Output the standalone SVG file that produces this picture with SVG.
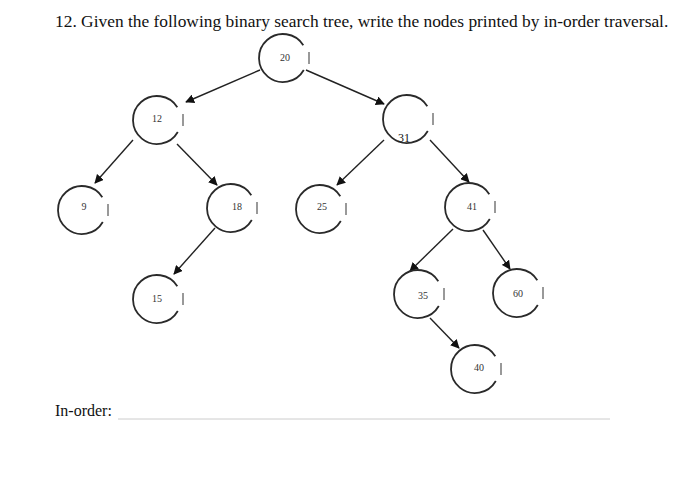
<svg xmlns="http://www.w3.org/2000/svg" width="700" height="489" viewBox="0 0 700 489">
<style>
.t{font-family:"Liberation Serif","Times New Roman",serif;fill:#111}
.lbl{font-family:"Liberation Serif","Times New Roman",serif;font-size:10px;fill:#333;text-anchor:middle}
.ring{fill:none;stroke:#2a2a2a;stroke-width:1.8}
.tick{fill:none;stroke:#555;stroke-width:1.2}
.edge{stroke:#222;stroke-width:1.4;fill:none;marker-end:url(#ah)}
</style>
<defs>
<marker id="ah" viewBox="0 0 10 10" refX="9" refY="5" markerWidth="9" markerHeight="9" markerUnits="userSpaceOnUse" orient="auto">
<path d="M0,0 L10,5 L0,10 z" fill="#111"/>
</marker>
<g id="node">
<path class="ring" d="M20.3,-12.8 A24,24 0 1 0 20.8,12"/>
<path class="tick" d="M26,-6 V6"/>
</g>
</defs>
<rect width="700" height="489" fill="#fff"/>
<text class="t" x="55" y="27" font-size="17.4">12. Given the following binary search tree, write the nodes printed by in-order traversal.</text>
<g id="connectors">
<line class="edge" x1="260" y1="70" x2="186" y2="102"/>
<line class="edge" x1="306" y1="70" x2="384" y2="104"/>
<line class="edge" x1="133" y1="140" x2="95" y2="183"/>
<line class="edge" x1="177" y1="144" x2="217" y2="185"/>
<line class="edge" x1="384" y1="140" x2="337" y2="185"/>
<line class="edge" x1="430" y1="140" x2="469" y2="182"/>
<line class="edge" x1="215" y1="228" x2="174" y2="274"/>
<line class="edge" x1="453" y1="229" x2="410" y2="271"/>
<line class="edge" x1="483" y1="230" x2="510" y2="269"/>
<line class="edge" x1="430" y1="318" x2="459" y2="348"/>
</g>
<g id="n20"><use href="#node" x="283" y="58"/><text class="lbl" x="285" y="61">20</text></g>
<g id="n12"><use href="#node" x="157" y="120"/><text class="lbl" x="157" y="122">12</text></g>
<g id="n31"><use href="#node" x="407" y="119"/><text class="t" x="404" y="142" font-size="12" text-anchor="middle">31</text></g>
<g id="n9"><use href="#node" x="82" y="210"/><text class="lbl" x="84" y="210">9</text></g>
<g id="n18"><use href="#node" x="231" y="208"/><text class="lbl" x="237" y="210">18</text></g>
<g id="n25"><use href="#node" x="320" y="209"/><text class="lbl" x="322" y="210">25</text></g>
<g id="n41"><use href="#node" x="469" y="207"/><text class="lbl" x="472" y="210">41</text></g>
<g id="n15"><use href="#node" x="157" y="299"/><text class="lbl" x="157" y="302">15</text></g>
<g id="n35"><use href="#node" x="418" y="294"/><text class="lbl" x="423" y="299">35</text></g>
<g id="n60"><use href="#node" x="517" y="293"/><text class="lbl" x="518" y="297">60</text></g>
<g id="n40"><use href="#node" x="475" y="369"/><text class="lbl" x="479" y="371">40</text></g>
<text class="t" x="55" y="416" font-size="16">In-order:</text>
<line x1="118" y1="419" x2="610" y2="419" stroke="#ccc" stroke-width="1"/>
</svg>
